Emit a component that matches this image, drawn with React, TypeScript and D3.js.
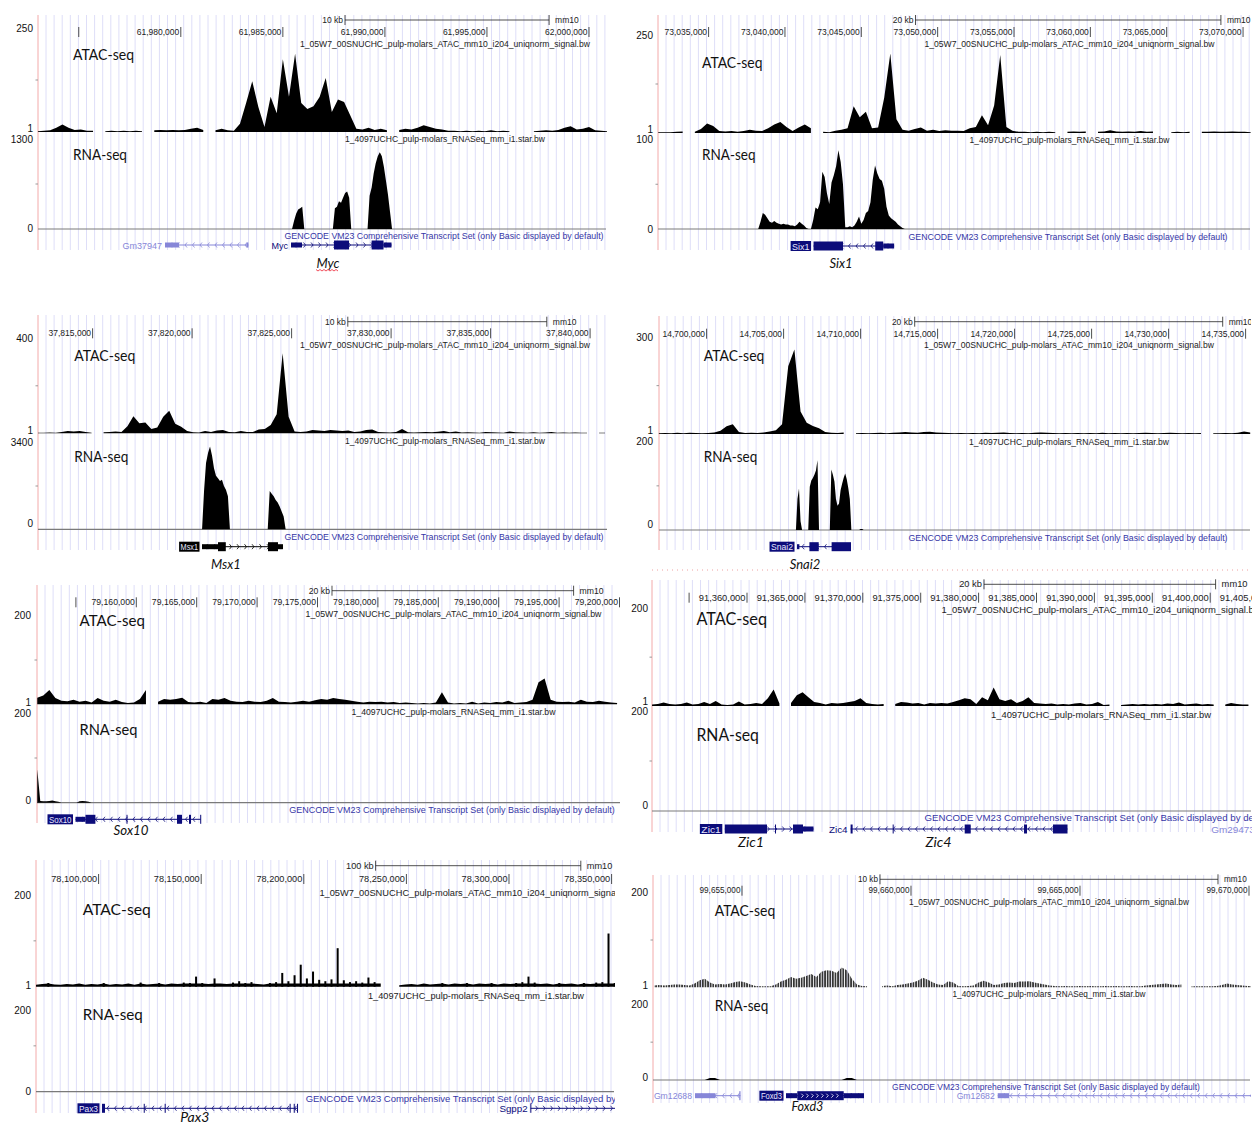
import React from 'react';
import * as d3 from 'd3';

type V = number | null;

// ---------------- Myc (chr15) ----------------
const mycTicks = [61975000, 61980000, 61985000, 61990000, 61995000, 62000000];
const mycTickLabels = ['', '61,980,000', '61,985,000', '61,990,000', '61,995,000', '62,000,000'];
const mycAtac: V[] = [2, 3, 4, 10, 18, 10, 5, 6, 3, 3, null, 2, 3, 2, 3, 2, 3, 2, null, 4, 5, 4, 5, 4, 5, 8, 10, 5, null, 4,
  8, 4, 3, 20, 70, 122, 60, 12, 85, 45, 175, 85, 188, 70, 55, 62, 84, 130, 48, 78, 72, 40, 8, 6, 10, 5, 8, 4, null, 5,
  8, 6, 10, 16, 12, 8, 6, 3, 3, 2, 3, 2, 3, 2, 4, 2, 3, 2, null, 2, null, 2, 3, 4, 3, 5, 10, 14, 6, 8, 12, 4, 3, 2];
const mycRna: V[] = [0, 120, 220, 280, 300, 320, 0, 0, 0, 0, 0, 0, 0, 0, 0, 0, 0, 0, 0, 0, 0, 300, 320, 400, 380, 450, 520, 540, 450, 0,
  0, 0, 0, 0, 0, 0, 0, 0, 480, 600, 800, 950, 1050, 1110, 1050, 900, 700, 500, 250, 0];

// ---------------- Six1 ----------------
const six1Ticks = [73035000, 73040000, 73045000, 73050000, 73055000, 73060000, 73065000, 73070000];
const six1TickLabels = ['73,035,000', '73,040,000', '73,045,000', '73,050,000', '73,055,000', '73,060,000', '73,065,000', '73,070,000'];
const six1Atac: V[] = [2, 2, 2, 3, 4, null, 3, 10, 24, 18, 5, 4, 5, 3, 5, 8, 6, 5, 12, 22, 28, 15, 5, 14, 22, 12, null, 3, 2, 6,
  8, 12, 68, 40, 54, 12, 14, 90, 203, 35, 8, 6, 10, 14, 6, 8, 5, 7, 6, 6, 5, 12, 15, 45, 20, 70, 199, 15, 6, 3,
  3, 2, 3, 2, 3, 2, null, 3, 4, 3, 4, null, 3, 4, 7, 4, 3, 4, 3, 5, 3, 4, null, null, 2, 3, 2, 3, null, 3, 3, 4, 3, 3, 4, 3, 3, 2];
const six1Rna: V[] = [0, 0, 8, 18, 16, 12, 8, 7, 9, 7, 6, 5, 6, 5, 5, 4, 4, 3, 5, 8, 6, 4, 1, 0, 0, 10, 24, 22, 30, 64,
  58, 40, 28, 52, 60, 70, 88, 75, 50, 2, 2, 3, 2, 4, 8, 14, 6, 10, 18, 20, 30, 55, 71, 62, 56, 54, 45, 25, 15, 12, 10, 8, 5, 3, 1, 0];

// ---------------- Msx1 ----------------
const msx1Ticks = [37815000, 37820000, 37825000, 37830000, 37835000, 37840000];
const msx1TickLabels = ['37,815,000', '37,820,000', '37,825,000', '37,830,000', '37,835,000', '37,840,000'];
const msx1Atac: V[] = [2, 2, 3, 2, 6, 10, 8, 10, 6, 2, null, 4, 6, 8, 6, 30, 72, 42, 45, 18, 24, 70, 95, 40, 28, 10, 4, 3, 10, 6,
  12, 14, 6, 4, 10, 6, 5, 16, 18, 35, 80, 337, 70, 8, 6, 8, 14, 12, 10, 14, 12, 10, 12, 6, 8, 14, 16, 6, 4, 3,
  5, 18, 4, 3, 4, 5, 4, 7, 10, 4, 8, 3, 4, 3, 2, 6, 4, 3, 2, 8, 4, 3, 2, 4, 2, 3, 5, 2, 3, 2, 3, 2, 2, null, 2, 2];
const msx1Rna: V[] = [0, 0, 1500, 2600, 3000, 3250, 2900, 2400, 2100, 2000, 1900, 1950, 1700, 1550, 1300, 0, 0, 0, 0, 0,
  0, 0, 0, 0, 0, 0, 0, 0, 0, 0, 0, 0, 0, 0, 0, 1500, 1400, 1300, 1150, 1050, 900, 700, 500, 0];

// ---------------- Snai2 ----------------
const snai2Ticks = [14700000, 14705000, 14710000, 14715000, 14720000, 14725000, 14730000, 14735000];
const snai2TickLabels = ['14,700,000', '14,705,000', '14,710,000', '14,715,000', '14,720,000', '14,725,000', '14,730,000', '14,735,000'];
const snai2Atac: V[] = [2, 3, 2, 4, 2, 4, 3, 2, 3, 5, 10, 24, 30, 6, 3, 4, 3, 5, 8, 12, 30, 210, 262, 70, 35, 25, 18, 6, 4, 3,
  5, null, 2, 3, 2, 3, 4, 2, 4, 5, 6, 5, 4, 6, 7, 5, 4, 3, 2, 3, 2, 3, 2, 4, 3, 4, 5, 3, 2, 3,
  2, 4, 5, 4, 3, 2, 3, 2, 3, 2, 3, 2, 4, 2, 3, 2, 3, 2, 3, 4, 3, 2, 3, 4, 3, 2, 3, 2, 3, null, 2, 2, 3, 2, 4, 8, 5];
const snai2Rna: V[] = [0, 0, 70, 94, 20, 0, 0, 0, 0, 0, 98, 112, 118, 125, 135, 158, 0, 0, 0, 0,
  0, 0, 0, 0, 137, 125, 110, 70, 55, 60, 90, 105, 118, 128, 115, 95, 70, 0, 0, 0, 0, 0, 0, 2, 2, 0, 0];

// ---------------- Sox10 ----------------
const sox10Ticks = [79155000, 79160000, 79165000, 79170000, 79175000, 79180000, 79185000, 79190000, 79195000, 79200000];
const sox10TickLabels = ['', '79,160,000', '79,165,000', '79,170,000', '79,175,000', '79,180,000', '79,185,000', '79,190,000', '79,195,000', '79,200,000'];
const sox10Atac: V[] = [15, 20, 32, 14, 8, 7, 10, 6, 8, 4, 14, 8, 6, 10, 5, 3, 4, 12, 32, null, 6, 12, 10, 12, 15, 5, 4, 6, 3, 12,
  10, 14, 8, 6, 5, 8, 6, 5, 8, 14, 6, 5, 4, 6, 8, 6, 9, 12, 10, 14, 12, 10, 8, 6, 4, 6, 5, 6, 4, 5,
  3, 4, 3, 2, 3, 2, 4, 27, 4, 2, 3, 2, 6, 2, 4, 3, 5, 4, 8, 3, 4, 5, 10, 50, 58, 10, 6, 5, 6, 4, 10, 6, 5, 8, 6, 4, 3];
const sox10Rna: V[] = [75, 4, 3, 3, 4, 5, 3, 2, 0, 0, 0, 0, 0, 0, 3, 4, 3, 2, 0];

// ---------------- Zic1 / Zic4 ----------------
const zicTicks = [91355000, 91360000, 91365000, 91370000, 91375000, 91380000, 91385000, 91390000, 91395000, 91400000, 91405000];
const zicTickLabels = ['', '91,360,000', '91,365,000', '91,370,000', '91,375,000', '91,380,000', '91,385,000', '91,390,000', '91,395,000', '91,400,000', '91,405,000'];
const zicAtac: V[] = [3, 4, 7, 4, 3, 4, 7, 3, 4, 8, 4, 10, 3, 2, 3, 9, 3, 4, 6, 4, 16, 34, 5, null, 6, 22, 28, 18, 8, 6,
  3, 6, 5, 6, 8, 10, 16, 6, 4, 3, 4, null, 4, 8, 7, 5, 6, 3, 6, 5, 6, 5, 8, 12, 16, 14, 4, 18, 12, 38,
  14, 10, 14, 6, 10, 18, 6, 5, 4, 5, 3, 4, 3, 5, 6, 3, 4, 8, 2, 3, null, 2, 3, 4, 3, 4, 3, 4, 3, 5,
  4, 7, 3, 4, 5, 3, 4, 3, null, 3, 6, 4, 3, 3];
const zicRna: V[] = [];

// ---------------- Pax3 ----------------
const pax3Ticks = [78100000, 78150000, 78200000, 78250000, 78300000, 78350000];
const pax3TickLabels = ['78,100,000', '78,150,000', '78,200,000', '78,250,000', '78,300,000', '78,350,000'];
const pax3Atac: V[] = [4, 6, 8, 5, 4, 6, 5, 7, 4, 6, 5, 8, 4, 6, 5, 7, 4, 9, 5, 6, 8, 5, 7, 6, 9, 8, 22, 8, 6, 18,
  7, 6, 9, 12, 8, 10, 6, 5, 8, 10, 30, 12, 25, 48, 18, 33, 15, 12, 16, 84, 14, 10, 12, 9, 20, 10, 7, null, null, 3,
  5, 6, 4, 7, 5, 6, 8, 5, 7, 6, 8, 5, 7, 6, 8, 5, 7, 6, 8, 10, 22, 9, 6, 7, 5, 8, 6, 7, 5, 8, 6, 9, 10, 116, 8];
const pax3Rna: V[] = [];

// ---------------- Foxd3 ----------------
const foxd3Ticks = [99655000, 99660000, 99665000, 99670000];
const foxd3TickLabels = ['99,655,000', '99,660,000', '99,665,000', '99,670,000'];
const foxd3Atac: V[] = [4, 5, 4, 5, 6, 6, 5, 4, 8, 15, 18, 10, 6, 7, 6, 8, 11, 13, 10, 6, 3, 2, 2, 2, 6, 12, 16, 22, 18, 20,
  24, 28, 22, 33, 36, 35, 30, 42, 36, 18, 6, 3, 2, null, null, 3, 4, 2, 5, 6, 8, 10, 14, 20, 16, 10, 6, 5, 13, 10,
  3, 2, 3, 4, 10, 14, 10, 5, 6, 9, 10, 9, 12, 12, 13, 10, 8, 6, 4, 3, 2, 3, 2, 2, 3, 2, 3, 2, 2, 3,
  2, 3, 2, 2, 3, 2, 2, 4, 5, 6, 7, 8, 6, 5, 6, null, 2, 2, 2, 2, 2, 3, 5, 8, 6, 5, 4, 3, 3];
const foxd3Rna: V[] = [0, 0, 0, 0, 0, 0, 0, 0, 0, 0, 0, 5, 5, 0, 0, 0, 0, 0, 0, 0,
  0, 0, 0, 0, 0, 0, 0, 0, 0, 0, 0, 0, 0, 0, 0, 0, 0, 0, 5, 5, 0, 0];

const NAVY = '#0c0c7a';
const LIGHT = '#8686d8';
const SANS = "'Liberation Sans', Arial, Helvetica, sans-serif";
const LABEL_FONT = "Lato, 'Open Sans', sans-serif";

type Exon = [number, number, number];
interface Gene { name: string; color: string; strand: '+' | '-'; start: number; end: number; exons: Exon[]; boxed?: boolean; inner?: boolean }
interface Track { start: number; step: number; values: V[] }
interface PanelCfg {
  id: string; x0: number; x1: number; top: number; bottom: number; domain: [number, number]; ts: number;
  ticks: number[]; tickLabels: string[]; ruler: [number, number]; rulerText: string;
  yRuler: number; yPos: number; yAtacName: number; atacTop: number; atacBase: number; rnaTop: number; rnaBase: number;
  yRnaName: number; yGencode: number; yGene: number; yGeneLabel: number; yAtacLabel: number; yRnaLabel: number;
  labelX: number; lw: number; vlabels: [string, number][]; vlabelX: number; nameX: number; gencodeX: number;
  atacMax: number; rnaMax: number; atac: Track; rna: Track; striped?: boolean; spiky?: boolean;
  genes: Gene[]; geneLabels: { text: string; x: number; squiggle?: boolean }[];
}

const panels: PanelCfg[] = [
  {
    id: 'myc', x0: 38, x1: 606, top: 15, bottom: 250, domain: [61973003, 62000833], ts: 1,
    ticks: mycTicks, tickLabels: mycTickLabels, ruler: [61988045, 61998045], rulerText: '10 kb',
    yRuler: 20, yPos: 32, yAtacName: 44, atacTop: 28, atacBase: 132, rnaTop: 139, rnaBase: 229,
    yRnaName: 139, yGencode: 236, yGene: 245, yGeneLabel: 263, yAtacLabel: 54, yRnaLabel: 154,
    labelX: 73, lw: 61, vlabels: [['250', 28], ['1', 128], ['1300', 139], ['0', 228]], vlabelX: 33, nameX: 445, gencodeX: 444,
    atacMax: 250, rnaMax: 1300, atac: { start: 61973000, step: 300, values: mycAtac }, rna: { start: 61985450, step: 100, values: mycRna },
    genes: [
      { name: 'Gm37947', color: LIGHT, strand: '-', start: 61979226, end: 61983312, exons: [[61979226, 61979912, 0], [61983219, 61983312, 0]] },
      { name: 'Myc', color: NAVY, strand: '+', start: 61985400, end: 61990324, exons: [[61985400, 61985939, 0], [61987507, 61988242, 1], [61989349, 61989932, 1], [61989932, 61990324, 0]] },
    ],
    geneLabels: [{ text: 'Myc', x: 328, squiggle: true }],
  },
  {
    id: 'six1', x0: 658, x1: 1250, top: 15, bottom: 250, domain: [73031686, 73070455], ts: 1,
    ticks: six1Ticks, tickLabels: six1TickLabels, ruler: [73048549, 73068549], rulerText: '20 kb',
    yRuler: 20, yPos: 32, yAtacName: 44, atacTop: 35, atacBase: 133, rnaTop: 139.5, rnaBase: 229,
    yRnaName: 140, yGencode: 237, yGene: 246, yGeneLabel: 263, yAtacLabel: 62, yRnaLabel: 154,
    labelX: 702, lw: 60.5, vlabels: [['250', 35], ['1', 129], ['100', 139.5], ['0', 229]], vlabelX: 653, nameX: 1069.5, gencodeX: 1068,
    atacMax: 250, rnaMax: 100, atac: { start: 73031700, step: 400, values: six1Atac }, rna: { start: 73038100, step: 150, values: six1Rna },
    genes: [
      { name: 'Six1', color: NAVY, strand: '-', start: 73041871, end: 73047150, boxed: true, exons: [[73041871, 73043803, 1], [73045912, 73046436, 1], [73046436, 73047150, 0]] },
    ],
    geneLabels: [{ text: 'Six1', x: 841 }],
  },
  {
    id: 'msx1', x0: 38, x1: 607, top: 315, bottom: 550, domain: [37812256, 37840849], ts: 1,
    ticks: msx1Ticks, tickLabels: msx1TickLabels, ruler: [37827824, 37837824], rulerText: '10 kb',
    yRuler: 321.7, yPos: 333.3, yAtacName: 345, atacTop: 338.3, atacBase: 433.3, rnaTop: 442.7, rnaBase: 529.3,
    yRnaName: 441, yGencode: 537.3, yGene: 546.7, yGeneLabel: 564.3, yAtacLabel: 355, yRnaLabel: 456.7,
    labelX: 74.3, lw: 61, vlabels: [['400', 338.3], ['1', 430.7], ['3400', 442.7], ['0', 523.3]], vlabelX: 33, nameX: 445, gencodeX: 444,
    atacMax: 400, rnaMax: 3400, atac: { start: 37812250, step: 300, values: msx1Atac }, rna: { start: 37820400, step: 100, values: msx1Rna },
    genes: [
      { name: 'Msx1', color: '#000', strand: '+', start: 37820497, end: 37824568, boxed: true, exons: [[37820497, 37821301, 0], [37821301, 37821693, 1], [37823814, 37824316, 1], [37824316, 37824568, 0]] },
    ],
    geneLabels: [{ text: 'Msx1', x: 226 }],
  },
  {
    id: 'snai2', x0: 659, x1: 1250, top: 316, bottom: 550, domain: [14696909, 14735286], ts: 1,
    ticks: snai2Ticks, tickLabels: snai2TickLabels, ruler: [14713513, 14733513], rulerText: '20 kb',
    yRuler: 321.7, yPos: 333.7, yAtacName: 345, atacTop: 337.3, atacBase: 434, rnaTop: 441.7, rnaBase: 530,
    yRnaName: 441.7, yGencode: 537.7, yGene: 546.7, yGeneLabel: 564, yAtacLabel: 355, yRnaLabel: 456.7,
    labelX: 703.8, lw: 60.5, vlabels: [['300', 337.3], ['1', 430.7], ['200', 441.7], ['0', 524]], vlabelX: 653, nameX: 1069, gencodeX: 1068,
    atacMax: 300, rnaMax: 200, atac: { start: 14696900, step: 400, values: snai2Atac }, rna: { start: 14705700, step: 100, values: snai2Rna },
    genes: [
      { name: 'Snai2', color: NAVY, strand: '-', start: 14705871, end: 14709377, boxed: true, exons: [[14705871, 14706026, 0], [14706676, 14707280, 1], [14708118, 14709377, 1]] },
    ],
    geneLabels: [{ text: 'Snai2', x: 805 }],
  },
  {
    id: 'sox10', x0: 37, x1: 620, top: 585, bottom: 823, domain: [79151780, 79200041], ts: 1.02,
    ticks: sox10Ticks, tickLabels: sox10TickLabels, ruler: [79176200, 79196200], rulerText: '20 kb',
    yRuler: 590.7, yPos: 602.3, yAtacName: 614.3, atacTop: 615.7, atacBase: 704.3, rnaTop: 713.3, rnaBase: 802.7,
    yRnaName: 712.3, yGencode: 810, yGene: 819.3, yGeneLabel: 830, yAtacLabel: 620, yRnaLabel: 729,
    labelX: 79.5, lw: 65.5, vlabels: [['200', 615.7], ['1', 702.3], ['200', 713.3], ['0', 800]], vlabelX: 31, nameX: 453.5, gencodeX: 452,
    atacMax: 200, rnaMax: 200, atac: { start: 79151800, step: 500, values: sox10Atac }, rna: { start: 79151800, step: 250, values: sox10Rna },
    genes: [
      { name: 'Sox10', color: NAVY, strand: '-', start: 79154967, end: 79165331, boxed: true, exons: [[79154967, 79155795, 0], [79155795, 79156614, 1], [79159189, 79159272, 1], [79163369, 79163783, 1], [79164363, 79164528, 1], [79165290, 79165331, 1]] },
    ],
    geneLabels: [{ text: 'Sox10', x: 131 }],
  },
  {
    id: 'zic', x0: 652, x1: 1251, top: 580, bottom: 832, domain: [91351796, 91403523], ts: 1.1,
    ticks: zicTicks, tickLabels: zicTickLabels, ruler: [91380466, 91400466], rulerText: '20 kb',
    yRuler: 584.3, yPos: 597.7, yAtacName: 609, atacTop: 608.3, atacBase: 706, rnaTop: 711, rnaBase: 811,
    yRnaName: 714, yGencode: 817.5, yGene: 829, yGeneLabel: 841, yAtacLabel: 618.3, yRnaLabel: 734.3,
    labelX: 696.5, lw: 70.5, vlabels: [['200', 608.3], ['1', 701], ['200', 711], ['0', 805]], vlabelX: 648, nameX: 1101, gencodeX: 1100,
    atacMax: 200, rnaMax: 200, atac: { start: 91351800, step: 500, values: zicAtac }, rna: { start: 91351800, step: 500, values: zicRna },
    genes: [
      { name: 'Zic1', color: NAVY, strand: '+', start: 91358083, end: 91365743, boxed: true, exons: [[91358083, 91361727, 1], [91362418, 91362504, 1], [91363973, 91364836, 1], [91364836, 91365743, 0]] },
      { name: 'Zic4', color: NAVY, strand: '-', start: 91368947, end: 91387678, exons: [[91368947, 91369120, 1], [91372580, 91372640, 1], [91378800, 91379319, 1], [91383922, 91384181, 1], [91386426, 91387678, 1]] },
      { name: 'Gm29473', color: LIGHT, strand: '-', start: 91404100, end: 91420000, exons: [[91404100, 91404900, 0]] },
    ],
    geneLabels: [{ text: 'Zic1', x: 751 }, { text: 'Zic4', x: 938.5 }],
  },
  {
    id: 'pax3', x0: 36, x1: 614, top: 860, bottom: 1113, domain: [78069493, 78351170], ts: 1.08,
    ticks: pax3Ticks, tickLabels: pax3TickLabels, ruler: [78234990, 78334990], rulerText: '100 kb',
    yRuler: 865.7, yPos: 879, yAtacName: 892.3, atacTop: 895, atacBase: 986.7, rnaTop: 1000, rnaBase: 1091.7,
    yRnaName: 995.7, yGencode: 1098.7, yGene: 1108.3, yGeneLabel: 1116, yAtacLabel: 908.3, yRnaLabel: 1013.3,
    labelX: 82.7, lw: 68, vlabels: [['200', 895], ['1', 985], ['200', 1010.7], ['0', 1091.7]], vlabelX: 31, nameX: 476, gencodeX: 478,
    atacMax: 200, rnaMax: 200, atac: { start: 78069500, step: 3000, values: pax3Atac }, rna: { start: 78069500, step: 3000, values: pax3Rna },
    spiky: true,
    genes: [
      { name: 'Pax3', color: NAVY, strand: '-', start: 78101657, end: 78197000, boxed: true, exons: [[78101657, 78103119, 1], [78122000, 78122300, 1], [78132200, 78132500, 1], [78193100, 78193400, 1], [78195100, 78195400, 1], [78196700, 78197000, 1]] },
      { name: 'Sgpp2', color: NAVY, strand: '+', start: 78310514, end: 78400000, exons: [[78310400, 78310700, 1]] },
    ],
    geneLabels: [{ text: 'Pax3', x: 194.8 }],
  },
  {
    id: 'foxd3', x0: 653, x1: 1250, top: 875, bottom: 1103, domain: [99652367, 99670030], ts: 0.965,
    ticks: foxd3Ticks, tickLabels: foxd3TickLabels, ruler: [99659083, 99669083], rulerText: '10 kb',
    yRuler: 879.3, yPos: 890.7, yAtacName: 901.7, atacTop: 892.7, atacBase: 987.3, rnaTop: 1004.3, rnaBase: 1080,
    yRnaName: 994.3, yGencode: 1086.7, yGene: 1095.7, yGeneLabel: 1106.7, yAtacLabel: 910, yRnaLabel: 1005,
    labelX: 714.7, lw: 60.5, vlabels: [['200', 892.7], ['1', 985], ['200', 1004.3], ['0', 1077.3]], vlabelX: 648, nameX: 1049, gencodeX: 1046,
    atacMax: 200, rnaMax: 200, atac: { start: 99652400, step: 150, values: foxd3Atac }, rna: { start: 99652400, step: 150, values: foxd3Rna },
    striped: true,
    genes: [
      { name: 'Gm12688', color: LIGHT, strand: '-', start: 99653609, end: 99654956, exons: [[99653609, 99654216, 0], [99654920, 99654956, 1]] },
      { name: 'Foxd3', color: NAVY, strand: '+', start: 99656302, end: 99658610, boxed: true, inner: true, exons: [[99656302, 99656636, 0], [99656636, 99658009, 1], [99658009, 99658610, 0]] },
      { name: 'Gm12682', color: LIGHT, strand: '-', start: 99662566, end: 99680000, exons: [[99662566, 99662901, 0]] },
    ],
    geneLabels: [{ text: 'Foxd3', x: 807.4 }],
  },
];

function GeneGlyph({ g, x, y, ts }: { g: Gene; x: d3.ScaleLinear<number, number>; y: number; ts: number }) {
  const xs = x(g.start);
  const xe = x(g.end);
  const chevrons: string[] = [];
  for (let px = xs + 5; px < xe - 3; px += 7.5) {
    chevrons.push(g.strand === '-' ? `M${px + 2},${y - 2.5}L${px},${y}L${px + 2},${y + 2.5}` : `M${px},${y - 2.5}L${px + 2},${y}L${px},${y + 2.5}`);
  }
  const inner: string[] = [];
  if (g.inner) {
    g.exons.filter(e => e[2] === 1).forEach(e => {
      for (let px = x(e[0]) + 4; px < x(e[1]) - 3; px += 5) inner.push(`M${px},${y - 2}L${px + 2},${y}L${px},${y + 2}`);
    });
  }
  const bw = (g.name.length * 4.6 + 2) * ts;
  return (
    <g>
      <line x1={xs} x2={xe} y1={y} y2={y} stroke={g.color} strokeWidth={1} />
      <path d={chevrons.join('')} fill="none" stroke={g.color} strokeWidth={0.8} />
      {g.exons.map((e, i) => {
        const h = e[2] === 1 ? 9 : 5;
        return <rect key={i} x={x(e[0])} y={y - h / 2} width={Math.max(1, x(e[1]) - x(e[0]))} height={h} fill={g.color} />;
      })}
      {inner.length > 0 && <path d={inner.join('')} fill="none" stroke="#fff" strokeWidth={0.8} />}
      {g.boxed ? (
        <g>
          <rect x={xs - 2.5 - bw} y={y - 5} width={bw} height={10} fill={g.color} />
          <text x={xs - 2.5 - bw / 2} y={y + 0.5} textAnchor="middle" dominantBaseline="central" fontSize={9 * ts} fill="#e8e8ff"
            textLength={bw - 3} lengthAdjust="spacingAndGlyphs">{g.name}</text>
        </g>
      ) : (
        <text x={xs - 3} y={y + 0.5} textAnchor="end" dominantBaseline="central" fontSize={9 * ts} fill={g.color}>{g.name}</text>
      )}
    </g>
  );
}

function Panel({ p }: { p: PanelCfg }) {
  const x = d3.scaleLinear().domain(p.domain).range([p.x0, p.x1]);
  const ya = d3.scaleLinear().domain([0, p.atacMax]).range([p.atacBase, p.atacTop]).clamp(true);
  const yr = d3.scaleLinear().domain([0, p.rnaMax]).range([p.rnaBase, p.rnaTop]).clamp(true);
  const pts = (t: Track) => t.values.map((v, i) => [t.start + i * t.step, v] as [number, V]);
  const mkArea = (ys: d3.ScaleLinear<number, number>, base: number, cap: number) =>
    d3.area<[number, V]>().defined(d => d[1] !== null).x(d => x(d[0])).y0(base).y1(d => ys(Math.min(d[1] as number, cap)));
  const atacPts = pts(p.atac);
  const atacPath = mkArea(ya, p.atacBase, p.spiky ? 7 : Infinity)(atacPts) || '';
  const rnaPath = mkArea(yr, p.rnaBase, Infinity)(pts(p.rna)) || '';
  const grid = d3.range(p.x0 + 8, p.x1, 8.1);
  const fs = (p.lw / 61) * 14.5;
  const ts = p.ts;
  const clipId = `clip-${p.id}`;
  return (
    <g clipPath={`url(#${clipId})`}>
      <defs>
        <clipPath id={clipId}>
          <rect x={p.x0 - 40} y={p.top - 8} width={p.x1 - p.x0 + 41} height={p.bottom - p.top + 40} />
        </clipPath>
      </defs>
      {grid.map((gx, i) => (
        <line key={i} x1={gx} x2={gx} y1={p.top} y2={p.bottom} stroke="#dedef8" strokeWidth={1} />
      ))}
      <line x1={p.x0} x2={p.x0} y1={p.top} y2={p.bottom} stroke="#f3aaaa" strokeWidth={1} />
      {/* ruler */}
      <line x1={x(p.ruler[0])} x2={x(p.ruler[1])} y1={p.yRuler} y2={p.yRuler} stroke="#222" strokeWidth={0.8} />
      <line x1={x(p.ruler[0])} x2={x(p.ruler[0])} y1={p.yRuler - 5} y2={p.yRuler + 5} stroke="#222" strokeWidth={0.8} />
      <line x1={x(p.ruler[1])} x2={x(p.ruler[1])} y1={p.yRuler - 5} y2={p.yRuler + 5} stroke="#222" strokeWidth={0.8} />
      <text x={x(p.ruler[0]) - 2} y={p.yRuler} textAnchor="end" dominantBaseline="central" fontSize={8.5 * ts} fill="#222">{p.rulerText}</text>
      <text x={x(p.ruler[1]) + 6} y={p.yRuler} dominantBaseline="central" fontSize={8.5 * ts} fill="#222">mm10</text>
      {/* base-position ticks */}
      {p.ticks.map((t, i) => (
        <g key={t}>
          <line x1={x(t)} x2={x(t)} y1={p.yPos - 5} y2={p.yPos + 5} stroke="#222" strokeWidth={0.8} />
          <text x={x(t) - 1.5} y={p.yPos} textAnchor="end" dominantBaseline="central" fontSize={8.5 * ts} fill="#222">{p.tickLabels[i]}</text>
        </g>
      ))}
      {/* track names */}
      <text x={p.nameX} y={p.yAtacName} textAnchor="middle" dominantBaseline="central" fontSize={9 * ts} fill="#222"
        textLength={290 * ts} lengthAdjust="spacingAndGlyphs">1_05W7_00SNUCHC_pulp-molars_ATAC_mm10_i204_uniqnorm_signal.bw</text>
      <text x={p.nameX} y={p.yRnaName} textAnchor="middle" dominantBaseline="central" fontSize={9 * ts} fill="#222"
        textLength={200 * ts} lengthAdjust="spacingAndGlyphs">1_4097UCHC_pulp-molars_RNASeq_mm_i1.star.bw</text>
      {/* signals */}
      <path d={atacPath} fill={p.striped ? 'url(#stripes)' : '#000'} />
      {p.spiky && atacPts.filter(d => d[1] !== null && (d[1] as number) > 7).map((d, i) => (
        <rect key={i} x={x(d[0]) - 1} y={ya(d[1] as number)} width={2} height={p.atacBase - ya(d[1] as number)} fill="#000" />
      ))}
      <line x1={p.x0} x2={p.x1} y1={p.rnaBase} y2={p.rnaBase} stroke="#7a7a7a" strokeWidth={1.2} />
      <path d={rnaPath} fill="#000" />
      {/* small axis marks at mid-track */}
      <line x1={p.x0 - 2.5} x2={p.x0} y1={(p.atacTop + p.atacBase) / 2} y2={(p.atacTop + p.atacBase) / 2} stroke="#999" />
      <line x1={p.x0 - 2.5} x2={p.x0} y1={(p.rnaTop + p.rnaBase) / 2} y2={(p.rnaTop + p.rnaBase) / 2} stroke="#999" />
      {p.vlabels.map(([t, vy], i) => (
        <text key={i} x={p.vlabelX} y={vy} textAnchor="end" dominantBaseline="central" fontSize={10} fill="#111">{t}</text>
      ))}
      <text x={p.labelX} y={p.yAtacLabel} dominantBaseline="central" fontFamily={LABEL_FONT} fontSize={fs} fill="#111"
        textLength={p.lw} lengthAdjust="spacingAndGlyphs">ATAC-seq</text>
      <text x={p.labelX} y={p.yRnaLabel} dominantBaseline="central" fontFamily={LABEL_FONT} fontSize={fs} fill="#111"
        textLength={p.lw * 0.885} lengthAdjust="spacingAndGlyphs">RNA-seq</text>
      {/* gene track */}
      <text x={p.gencodeX} y={p.yGencode} textAnchor="middle" dominantBaseline="central" fontSize={9 * ts} fill="#3636a6"
        textLength={319 * ts} lengthAdjust="spacingAndGlyphs">GENCODE VM23 Comprehensive Transcript Set (only Basic displayed by default)</text>
      {p.genes.map(g => <GeneGlyph key={g.name} g={g} x={x} y={p.yGene} ts={ts} />)}
      {p.geneLabels.map(l => (
        <g key={l.text}>
          <text x={l.x} y={p.yGeneLabel} textAnchor="middle" dominantBaseline="central" fontFamily={LABEL_FONT}
            fontStyle="italic" fontSize={13 * ts} fill="#111">{l.text}</text>
          {l.squiggle && (
            <path d={d3.range(l.x - 12, l.x + 12, 2).map((sx, k) => `${k === 0 ? 'M' : 'L'}${sx},${p.yGeneLabel + 7 + (k % 2 ? 1 : -0.5)}`).join('')}
              fill="none" stroke="#e23" strokeWidth={0.8} />
          )}
        </g>
      ))}
    </g>
  );
}

export default function App() {
  return (
    <svg width={1259} height={1125} style={{ position: 'absolute', left: 0, top: 0, background: '#fff' }} fontFamily={SANS}>
      <defs>
        <pattern id="stripes" width={2.6} height={10} patternUnits="userSpaceOnUse">
          <rect x={0} y={0} width={1.7} height={10} fill="#333" />
        </pattern>
      </defs>
      <rect x={0} y={0} width={1259} height={1125} fill="#fff" />
      <line x1={652} x2={1252} y1={570} y2={570} stroke="#f0a0a0" strokeWidth={1} strokeDasharray="1 4" />
      {panels.map(p => <Panel key={p.id} p={p} />)}
    </svg>
  );
}
